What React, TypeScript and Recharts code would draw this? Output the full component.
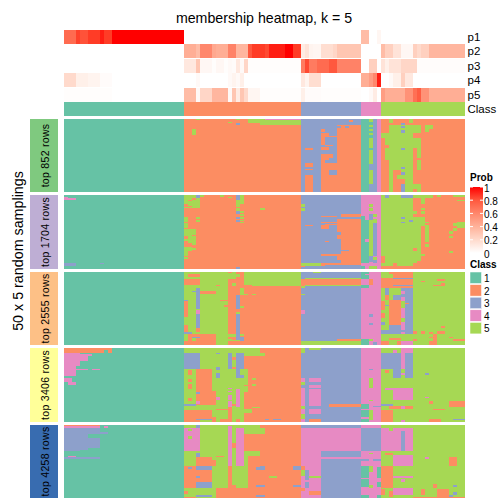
import React from "react";
import { BarChart, Bar, Cell, XAxis, YAxis } from "recharts";

const CLASS_COLORS = ["#66C2A5", "#FC8D62", "#8DA0CB", "#E78AC3", "#A6D854"];
const STRIP_COLORS = ["#7FC97F", "#BEAED4", "#FDC086", "#FFFF99", "#386CB0"];
const STRIP_LABELS = ["top 852 rows", "top 1704 rows", "top 2555 rows", "top 3406 rows", "top 4258 rows"];
const COLS = 100;
const PROB_NAMES = ["p1", "p2", "p3", "p4", "p5"];
const PROB_TICKS = ["1", "0.8", "0.6", "0.4", "0.2", "0"];
const CLASS_RUNS: number[][] = [[1, 30], [2, 29], [3, 15], [4, 5], [5, 21]];

// [probability, number of columns]
const P1 = [[.72,3],[.88,1],[.82,2],[.9,3],[.95,1],[.9,2],[1,18],[0,44],[.35,2],[0,2],[.05,1],[0,21]];
const P2 = [[0,30],[.42,3],[.35,1],[.6,3],[.45,1],[.42,3],[.62,2],[.38,3],[.8,1],[.9,3],[.85,1],[.95,4],[1,2],[.9,2],[.1,1],[.15,1],[.06,1],[.05,2],[.18,3],[.22,1],[.3,6],[0,5],[.35,1],[.25,2],[.15,2],[.04,3],[.25,1],[.2,1],[.25,2],[.38,9]];
const P3 = [[0,30],[.12,3],[.3,1],[.04,3],[.01,1],[.04,2],[.01,1],[.03,1],[.02,1],[.12,1],[.03,1],[.22,1],[.01,13],[.65,1],[.85,1],[.65,2],[.72,3],[.8,2],[.62,6],[0,2],[.25,2],[0,1],[.15,1],[.08,1],[.15,3],[.22,4],[.015,12]];
const P4 = [[.2,3],[.08,3],[.06,3],[.02,3],[0,18],[0,3],[.03,1],[0,7],[.03,1],[.06,1],[.03,1],[.08,1],[0,14],[.12,1],[.06,1],[.18,3],[0,10],[.42,2],[.5,1],[.6,1],[.95,1],[0,2],[.03,1],[.08,2],[.25,1],[.12,2],[0,13]];
const P5 = [[.01,12],[0,18],[.35,3],[.03,1],[.22,3],[.38,4],[.03,1],[.3,1],[.1,1],[.3,1],[.2,1],[.05,3],[.01,10],[.08,1],[.02,4],[.01,10],[0,2],[.03,1],[.1,1],[0,1],[.5,1],[.42,5],[.55,2],[.7,1],[.78,1],[.55,2],[.42,9]];
const PROB_RUNS = [P1, P2, P3, P4, P5];

// blocks of equal class: [class, firstCol, endCol, firstRow, endRow]
const PANEL1 = [
[1,0,30,0,73],[2,30,59,0,73],[3,59,74,0,73],[1,74,76,0,73],[3,76,78,0,73],[4,78,79,0,73],[2,79,100,0,73],
[5,33,34,0,1],[5,32,33,10,16],[5,41,42,3,4],[5,43,44,0,1],[3,43,44,4,6],[5,46,49,1,4],[5,48,59,1,3],[5,49,59,3,6],[4,50,59,0,1],[5,46,50,0,1],
[2,60,62,29,31],[2,60,62,44,48],[2,60,62,50,51],[2,60,62,56,73],[2,64,65,10,13],[2,64,66,14,18],[2,64,65,18,26],[2,64,66,28,31],[2,64,66,35,73],[3,65,66,41,44],
[2,68,74,6,73],[2,71,72,1,3],[3,68,69,7,9],[3,70,71,7,9],[2,65,68,17,18],[2,65,67,26,27],[2,66,68,44,51],[3,66,68,51,56],[2,66,68,56,73],[2,66,67,35,39],
[5,76,77,0,3],[1,76,77,3,6],[5,76,77,6,8],[1,76,77,8,10],[5,76,77,10,12],[1,76,77,12,14],[5,76,77,14,16],[1,76,77,16,19],[5,76,77,19,29],[1,76,77,29,31],[5,76,77,31,45],[5,76,77,51,65],
[5,81,82,0,4],[5,86,87,0,4],[5,81,89,6,14],[5,90,92,6,10],[5,90,91,10,13],[5,79,87,14,19],[5,80,89,19,26],[5,81,89,26,29],[5,80,87,29,41],[5,88,89,29,39],[5,81,87,41,51],[5,88,89,41,51],
[5,81,82,51,73],[5,84,87,51,56],[5,83,87,56,60],[5,85,87,60,73],[5,85,89,65,70],[5,88,89,70,73],
[3,84,85,4,6],[3,84,85,7,9],[3,84,85,11,14],[3,84,85,29,31],[3,84,85,48,50],[3,84,85,53,56],[3,84,85,65,73],[2,87,88,14,16],[2,87,88,17,19]
];
const PANEL2 = [
[1,0,30,0,74],[2,30,59,0,74],[3,59,74,0,74],[4,74,79,0,74],[2,79,100,0,74],
[4,0,1,2,4],[4,0,3,3,5],[3,0,3,68,71],[3,9,10,68,69],
[5,30,33,0,3],[3,33,34,0,3],[5,34,35,0,2],[5,39,40,0,2],[5,41,42,2,3],[5,30,34,3,13],[2,32,33,3,5],[2,31,32,5,6],[2,30,31,9,12],[2,30,32,11,12],
[5,30,31,22,27],[5,33,34,22,24],[5,33,34,25,27],[5,30,31,28,33],[5,30,33,34,46],[2,32,33,40,41],[2,30,31,41,44],[2,33,34,44,46],[5,32,33,46,50],[5,31,32,46,48],[5,30,31,52,61],[5,31,32,52,56],[5,32,33,53,55],[5,30,31,62,64],
[3,43,44,0,5],[5,43,44,5,12],[5,44,45,0,9],[5,43,44,13,16],[3,43,44,16,19],[5,44,45,16,18],[5,44,45,19,21],[3,43,44,22,24],[5,44,45,22,24],[3,43,44,25,27],[5,44,45,25,26],[5,44,45,27,28],[5,49,50,13,15],[3,43,44,72,74],
[5,59,60,9,12],[5,59,60,13,16],[2,64,65,21,22],[2,64,66,27,28],[2,64,66,30,34],[2,60,62,30,31],[2,65,66,46,47],[2,64,66,59,61],[5,59,64,68,71],[2,64,66,68,71],[2,59,60,71,72],
[2,69,74,19,22],[2,65,68,21,22],[2,68,74,24,70],[2,65,68,27,28],[2,65,68,29,30],[3,68,69,37,40],[3,68,69,44,52],[3,68,69,52,59],[3,69,71,55,56],[2,65,69,59,61],[3,68,69,65,68],[2,65,74,68,70],[3,65,74,70,74],
[1,74,75,21,68],[1,75,76,25,68],[4,75,76,44,47],[4,74,75,68,71],[1,74,75,71,74],
[5,76,77,9,12],[5,76,77,13,16],[3,76,77,19,25],[5,76,77,25,61],[3,76,77,61,67],[5,77,78,19,22],[5,77,78,24,28],[3,77,78,28,61],[5,77,78,62,65],[3,77,78,65,68],[5,76,78,71,74],[4,76,77,67,71],
[5,79,87,0,61],[3,80,81,0,3],[5,87,92,0,3],[3,84,87,0,3],[2,92,93,0,2],[5,93,94,0,2],[5,97,100,0,2],[5,98,100,5,6],
[5,89,90,3,9],[5,89,90,13,15],[5,89,90,16,19],[5,87,88,16,19],[5,87,89,22,61],[5,89,90,22,31],[5,90,91,27,28],[5,90,91,30,47],[5,90,91,49,52],[2,87,88,53,56],[5,97,98,28,31],[5,98,100,27,33],[5,97,98,33,36],[5,96,97,36,39],[5,96,97,41,43],[5,96,97,56,58],
[3,84,85,22,24],[3,84,85,27,28],[3,86,87,25,27],[3,84,85,62,64],[5,89,90,59,61],[5,88,89,61,66],[2,79,80,61,64],[5,80,88,61,68],[5,79,82,68,71],[5,83,87,68,71]
];
const PANEL3 = [
[1,0,30,0,73],[5,30,41,0,73],[2,41,49,0,73],[2,49,59,0,73],[3,59,74,0,73],[4,74,79,0,73],[5,79,100,0,73],
[2,31,34,2,5],[2,30,34,7,13],[3,33,34,16,37],[4,33,34,38,42],[3,33,34,42,56],[2,33,34,56,60],[2,34,38,19,22],[2,38,39,13,14],[2,39,41,28,29],[2,30,31,28,45],[2,30,31,53,61],[3,30,31,28,29],[3,32,33,19,20],
[2,40,41,33,35],[5,41,43,0,7],[2,41,42,0,1],[3,43,44,23,37],[3,43,44,42,68],[5,43,44,40,42],[2,44,45,3,16],[5,44,45,16,23],[5,43,44,2,5],[5,42,43,11,14],[5,44,45,34,36],[5,44,45,62,64],
[5,45,59,0,13],[5,47,59,13,14],[5,45,46,22,23],[5,47,48,22,23],
[2,30,38,62,73],[5,30,31,62,69],[5,32,33,66,69],[5,38,39,62,67],[5,40,43,62,65],[5,40,42,67,69],[5,42,44,68,69],[3,44,45,65,69],[3,30,32,60,62],[3,32,34,65,66],
[2,59,60,7,14],[5,59,60,14,16],[5,60,74,6,7],[5,60,74,13,14],[2,60,74,7,13],[3,59,74,0,6],[5,62,64,0,1],[4,59,60,38,42],[5,59,60,22,23],
[2,68,74,67,69],[5,59,74,69,73],[1,74,76,0,7],[4,75,76,2,3],[2,76,77,7,13],[1,74,76,13,16],[3,76,77,42,45],[3,76,77,51,53],[5,76,77,67,69],[3,77,78,70,73],[1,74,76,67,73],
[2,79,87,6,16],[5,79,81,0,6],[2,81,82,0,2],[5,81,82,2,6],[2,82,87,0,6],[3,82,87,6,7],[3,82,87,13,14],
[5,79,80,16,22],[3,80,81,16,23],[5,81,84,16,20],[3,84,87,16,23],[4,84,85,19,22],[2,80,81,23,28],[5,81,82,23,28],[3,82,87,23,28],[4,84,85,25,29],
[2,79,80,29,38],[5,80,81,28,33],[3,80,82,33,34],[2,81,84,28,53],[4,84,85,36,46],[3,85,87,28,60],[2,85,86,31,32],[4,84,85,50,60],[2,79,80,41,46],[5,79,81,46,60],[5,80,81,38,46],[3,79,80,50,53],[3,81,84,53,58],[2,82,83,48,50],[3,84,87,58,62],
[3,79,87,58,62],[5,81,82,62,66],[2,81,84,66,68],[5,85,87,66,69],[2,79,81,69,73],[5,81,84,69,73],[2,83,84,69,73],[4,84,87,69,73],[4,84,85,60,62],
[2,87,88,59,62],[2,89,90,59,62],[2,91,92,60,62],[2,93,95,59,62],[2,94,95,54,56],[2,93,95,7,9],[2,94,95,11,14],[2,92,95,13,14],[2,89,90,9,10],[2,97,100,67,69],[2,92,93,62,69],[2,91,93,69,73],[2,87,88,67,69],[2,91,92,65,66],[2,96,97,65,66]
];
const PANEL4 = [
[1,0,30,0,74],[5,30,49,0,74],[2,49,59,0,74],[3,59,74,0,74],[4,74,79,0,74],[5,79,100,0,74],
[2,0,12,0,2],[2,0,10,2,5],[2,11,12,2,5],[4,0,4,5,18],[4,4,7,6,8],[4,4,6,8,13],[4,0,3,18,28],[4,3,6,21,22],[4,7,9,21,22],[1,0,2,28,30],[4,0,2,30,34],[4,1,3,34,37],
[3,30,34,5,21],[2,33,37,21,57],[2,37,38,43,57],[2,31,32,22,27],[2,31,32,31,34],[2,31,32,36,41],[2,31,32,50,53],[3,30,33,56,58],[3,33,34,44,46],[4,33,34,53,56],[2,30,34,62,74],[2,34,37,62,71],[3,33,37,71,72],[2,37,38,69,74],[2,38,41,61,62],
[3,38,39,5,6],[3,38,39,19,22],[3,38,39,25,30],[4,38,39,49,52],
[3,41,42,5,21],[3,43,45,5,30],[2,42,43,9,12],[2,42,43,19,21],[2,45,49,8,74],[5,45,46,21,37],[5,44,46,21,27],[5,45,46,38,44],[5,47,48,30,32],[5,47,48,36,38],[5,45,47,61,65],[5,47,49,59,60],
[4,41,42,40,41],[4,41,42,43,44],[4,41,42,47,52],[4,41,42,53,59],[4,43,44,41,59],[2,41,42,59,74],[2,39,41,71,74],[2,43,44,71,74],[2,42,43,56,58],
[5,49,50,5,8],[3,50,51,71,72],[3,52,54,71,72],
[5,59,60,0,5],[3,59,60,5,30],[4,59,60,30,34],[5,59,60,34,37],[4,59,60,40,58],[5,59,60,58,61],[4,59,60,61,66],[5,59,60,66,71],[4,59,60,71,74],
[5,61,64,0,2],[4,61,64,30,34],[4,61,64,37,40],[4,61,64,41,58],[4,61,64,61,66],[2,61,64,71,74],[2,66,74,56,59],
[3,76,77,21,22],[5,76,77,30,40],[5,76,77,52,53],[5,76,77,62,72],[1,74,76,56,61],[1,74,76,62,69],[1,74,76,71,74],[3,77,79,58,59],
[4,82,83,2,5],[4,84,87,0,5],[3,79,84,5,21],[3,82,84,21,30],[4,84,85,5,21],[3,85,87,5,30],[4,84,85,25,27],[2,80,81,22,25],[4,82,87,40,52],[4,80,82,40,42],[3,79,82,56,58],[2,81,87,58,61],[4,84,85,58,61],[2,79,82,62,74],[4,84,85,72,74],
[2,96,100,53,59],[2,91,92,53,56],[3,90,91,25,27],[4,90,91,49,50],[2,92,95,61,62],[2,91,94,71,74],[3,97,100,71,72]
];
const PANEL5 = [
[1,0,30,0,73],[5,30,49,0,73],[2,49,59,0,73],[3,59,74,0,3],[4,59,74,3,26],[3,64,74,26,32],[4,59,74,32,34],[3,64,74,34,73],[4,59,64,26,73],[3,74,79,3,26],[4,74,79,0,3],[4,74,79,26,73],[5,79,100,0,73],
[2,0,9,0,1],[4,0,9,1,3],[4,10,11,1,3],[3,0,9,3,7],[3,0,11,7,9],[3,0,6,9,25],[3,6,9,13,23],[3,0,4,25,26],[4,1,3,31,32],[3,0,9,32,34],
[3,33,34,0,3],[4,30,34,3,26],[5,31,32,4,6],[5,31,32,11,14],[3,33,34,28,32],[2,30,33,41,63],[3,31,32,42,44],[2,33,37,32,63],[3,33,37,41,45],[3,33,34,51,53],[3,33,37,57,63],[2,37,38,35,41],[5,34,38,63,70],[2,30,31,66,69],[3,33,37,70,72],[2,38,49,63,73],[2,30,33,72,73],
[4,41,42,1,41],[4,43,45,3,41],[2,42,43,18,23],[2,45,49,9,26],[5,45,47,3,9],[2,46,49,31,63],[3,48,49,42,45],[3,48,49,60,62],[3,48,49,70,72],[2,41,42,41,63],[2,38,40,31,32],[2,42,43,60,63],
[5,49,50,3,9],[3,49,50,41,45],[3,57,59,41,45],[5,51,53,51,53],[3,49,50,60,62],[3,57,59,60,62],[3,49,50,70,72],
[5,59,60,26,32],[4,59,60,26,41],[2,59,60,41,45],[3,60,61,45,55],[3,60,61,57,63],[5,61,64,51,53],[2,61,64,66,70],[2,59,60,63,66],[5,59,60,45,51],
[3,74,76,34,36],[3,77,79,34,36],[1,74,76,41,53],[1,74,76,54,62],[1,78,79,42,53],[1,78,79,57,62],[5,76,77,41,47],[5,76,77,28,29],[1,74,76,70,73],[1,78,79,70,73],[5,76,77,60,63],
[4,79,87,3,26],[5,81,82,3,6],[3,84,85,6,26],[5,79,82,26,41],[5,82,87,26,30],[4,82,87,30,41],[2,80,82,28,30],[2,79,82,41,63],[4,82,87,51,53],[4,84,85,54,57],[4,82,87,63,70],[2,79,80,64,70],[2,81,82,66,72],
[2,96,98,32,41],[4,90,91,32,34],[3,97,98,60,62],[3,97,98,67,70],[3,96,97,70,72],[2,92,93,59,63],[2,93,96,64,72],[2,89,90,64,70],[2,87,100,72,73]
];
const PANELS = [PANEL1, PANEL2, PANEL3, PANEL4, PANEL5];
const PANEL_BOXES = [[119, 73], [195, 74], [272, 73], [348, 74], [425, 73]];

const STOPS: [number, number, number][] = [[0,255,255],[.1,236,228],[.2,218,204],[.3,198,178],[.4,178,154],[.5,157,131],[.6,135,108],[.7,112,85],[.8,88,62],[.9,60,38],[1,0,0]];
function prob(t: number) {
  for (let i = 1; i < STOPS.length; i++) {
    if (t <= STOPS[i][0]) {
      const a = STOPS[i - 1], b = STOPS[i], k = (t - a[0]) / (b[0] - a[0]);
      return `rgb(255,${Math.round(a[1] + (b[1] - a[1]) * k)},${Math.round(a[2] + (b[2] - a[2]) * k)})`;
    }
  }
  return "rgb(255,0,0)";
}

type Seg = [string, number];
function rowsFromBlocks(blocks: number[][], h: number): Seg[][] {
  const m: number[][] = Array.from({ length: h }, () => new Array(COLS).fill(1));
  for (const [c, x0, x1, y0, y1] of blocks)
    for (let y = y0; y < Math.min(y1, h); y++) for (let x = x0; x < x1; x++) m[y][x] = c;
  return m.map((row) => {
    const segs: Seg[] = [];
    row.forEach((c) => {
      const col = CLASS_COLORS[c - 1];
      if (segs.length && segs[segs.length - 1][0] === col) segs[segs.length - 1][1]++;
      else segs.push([col, 1]);
    });
    return segs;
  });
}

function Heat({ rows, left, top, width, height }: { rows: Seg[][]; left: number; top: number; width: number; height: number }) {
  const n = Math.max(...rows.map((r) => r.length));
  const data = rows.map((r, i) => {
    const d: Record<string, number | string> = { row: String(i) };
    r.forEach((s, k) => (d["s" + k] = s[1]));
    return d;
  });
  return (
    <div style={{ position: "absolute", left, top }}>
      <BarChart width={width} height={height} data={data} layout="vertical" margin={{ top: 0, right: 0, bottom: 0, left: 0 }} barCategoryGap={0} barGap={0}>
        <XAxis type="number" hide domain={[0, COLS]} />
        <YAxis type="category" dataKey="row" hide width={0} />
        {Array.from({ length: n }, (_, k) => (
          <Bar key={k} dataKey={"s" + k} stackId="a" isAnimationActive={false} shapeRendering="crispEdges">
            {rows.map((r, i) => (
              <Cell key={i} fill={r[k] ? r[k][0] : "none"} />
            ))}
          </Bar>
        ))}
      </BarChart>
    </div>
  );
}

const FONT = "'Liberation Sans', Arial, sans-serif";
const HEAT_LEFT = 64;
const HEAT_W = 401;

export default function App() {
  const probRows: Seg[][] = PROB_RUNS.map((r) => r.map(([v, n]) => [prob(v), n] as Seg));
  const classRow: Seg[][] = [CLASS_RUNS.map(([c, n]) => [CLASS_COLORS[c - 1], n] as Seg)];
  return (
    <div style={{ position: "absolute", left: 0, top: 0, width: 504, height: 504, background: "#fff", overflow: "hidden" }}>
      <Heat rows={probRows} left={HEAT_LEFT} top={30} width={HEAT_W} height={72} />
      <Heat rows={classRow} left={HEAT_LEFT} top={102} width={HEAT_W} height={14} />
      {PANELS.map((p, i) => (
        <Heat key={i} rows={rowsFromBlocks(p, PANEL_BOXES[i][1])} left={HEAT_LEFT} top={PANEL_BOXES[i][0]} width={HEAT_W} height={PANEL_BOXES[i][1]} />
      ))}
      <svg width={504} height={504} style={{ position: "absolute", left: 0, top: 0, pointerEvents: "none" }} fontFamily={FONT}>
        <defs>
          <linearGradient id="pg" x1="0" y1="0" x2="0" y2="1">
            {PROB_TICKS.map((t, i) => (
              <stop key={t} offset={i / 5} stopColor={prob(Number(t))} />
            ))}
          </linearGradient>
        </defs>
        <text x={264} y={23} fontSize={14.2} textAnchor="middle">membership heatmap, k = 5</text>
        {PROB_NAMES.map((n, i) => (
          <text key={n} x={467.5} y={41 + i * 14.4} fontSize={11.5}>{n}</text>
        ))}
        <text x={467.5} y={113} fontSize={11.5}>Class</text>
        <text transform="translate(23,251) rotate(-90)" fontSize={14.3} textAnchor="middle">50 x 5 random samplings</text>
        {PANEL_BOXES.map(([t, h], i) => (
          <g key={i}>
            <rect x={30} y={t} width={28} height={h} fill={STRIP_COLORS[i]} />
            <text transform={`translate(48.5,${t + h / 2}) rotate(-90)`} fontSize={10.5} letterSpacing={0.3} textAnchor="middle">{STRIP_LABELS[i]}</text>
          </g>
        ))}
        <text x={470} y={180.5} fontSize={10} fontWeight="bold">Prob</text>
        <rect x={470} y={187} width={13} height={66} fill="url(#pg)" />
        {PROB_TICKS.map((t, i) => (
          <g key={t}>
            <line x1={470} x2={473} y1={187 + i * 13.2} y2={187 + i * 13.2} stroke="#fff" />
            <line x1={480} x2={483} y1={187 + i * 13.2} y2={187 + i * 13.2} stroke="#fff" />
            <text x={484} y={191.5 + i * 13.2} fontSize={10}>{t}</text>
          </g>
        ))}
        <text x={470} y={268} fontSize={10} fontWeight="bold">Class</text>
        {CLASS_COLORS.map((c, i) => (
          <g key={c}>
            <rect x={470} y={272 + i * 12.6} width={11.5} height={11.5} fill={c} stroke="#fff" strokeWidth={0.5} />
            <text x={484} y={282 + i * 12.6} fontSize={10}>{i + 1}</text>
          </g>
        ))}
      </svg>
    </div>
  );
}
